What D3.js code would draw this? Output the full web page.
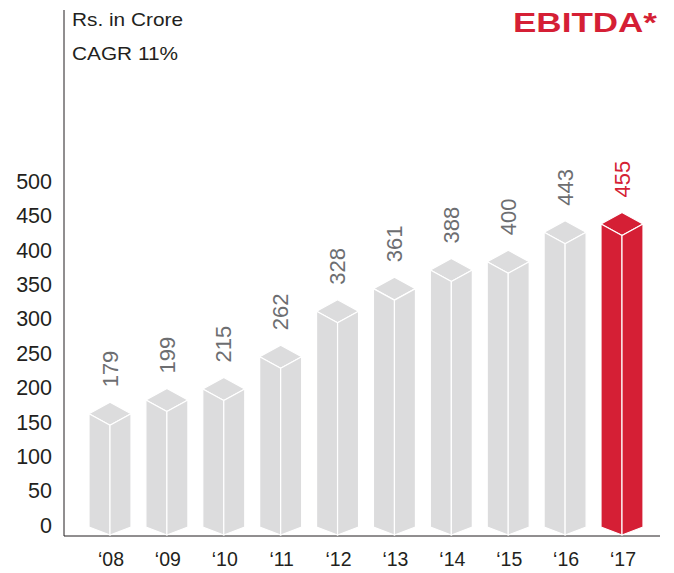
<!DOCTYPE html>
<html>
<head>
<meta charset="utf-8">
<script src="https://cdn.jsdelivr.net/npm/d3@7"></script>
<style>
  body { margin: 0; background: #fff; }
  svg { display: block; font-family: "Liberation Sans", Arial, sans-serif; }
</style>
</head>
<body>
<svg id="chart" width="674" height="573"></svg>
<script>
// EBITDA, Rs. in Crore
const years = ["‘08", "‘09", "‘10", "‘11", "‘12", "‘13", "‘14", "‘15", "‘16", "‘17"];
const values = [179, 199, 215, 262, 328, 361, 388, 400, 443, 455];
const yTicks = [0, 50, 100, 150, 200, 250, 300, 350, 400, 450, 500];

const GREY = "#dcdcdd";
const RED = "#d51f35";
const LABEL_GREY = "#6d6e71";

const svg = d3.select("#chart");
const axisX = 64;
const baseY = 536;

const x = d3.scalePoint().domain(years).range([110, 622]);
const y = d3.scaleLinear().domain([0, 500]).range([525.5, 181.5]);

// axis lines
svg.append("line")
  .attr("x1", axisX).attr("x2", axisX)
  .attr("y1", 10).attr("y2", baseY)
  .attr("stroke", "#231f20").attr("stroke-width", 1);
svg.append("line")
  .attr("x1", axisX).attr("x2", 660)
  .attr("y1", baseY).attr("y2", baseY)
  .attr("stroke", "#231f20").attr("stroke-width", 1);

// y tick labels
const yAxis = svg.append("g")
  .attr("transform", `translate(${axisX},0)`)
  .call(d3.axisLeft(y).tickValues(yTicks).tickSize(0).tickPadding(12));
yAxis.select(".domain").remove();
yAxis.selectAll("text")
  .attr("font-size", 21.5)
  .attr("font-family", "Liberation Sans, Arial, sans-serif")
  .attr("fill", "#231f20");

// isometric prisms
const hw = 21, dTop = 11.5;
const bars = svg.append("g");
years.forEach((yr, i) => {
  const cx = x(yr);
  const top = y(values[i]);
  const col = i === years.length - 1 ? RED : GREY;
  const sideBot = baseY - 9, frontBot = baseY - 1;
  const g = bars.append("g");
  const faces = [
    [[cx, top], [cx + hw, top + dTop], [cx, top + 2 * dTop], [cx - hw, top + dTop]],
    [[cx - hw, top + dTop], [cx, top + 2 * dTop], [cx, frontBot], [cx - hw, sideBot]],
    [[cx + hw, top + dTop], [cx, top + 2 * dTop], [cx, frontBot], [cx + hw, sideBot]]
  ];
  faces.forEach(f => {
    g.append("polygon")
      .attr("points", f.map(p => p.join(",")).join(" "))
      .attr("fill", col)
      .attr("stroke", "#fff")
      .attr("stroke-width", 1.2)
      .attr("stroke-linejoin", "round");
  });
  // value label
  svg.append("text")
    .attr("transform", `translate(${cx},${top - 15}) rotate(-90)`)
    .attr("dy", "0.35em")
    .attr("font-size", 22)
    .attr("fill", i === years.length - 1 ? RED : LABEL_GREY)
    .text(values[i]);
});

// x labels
svg.append("g").selectAll("text")
  .data(years)
  .enter()
  .append("text")
  .attr("x", d => x(d) + 1)
  .attr("y", 565.5)
  .attr("text-anchor", "middle")
  .attr("font-size", 19.5)
  .attr("fill", "#231f20")
  .text(d => d);

// header texts
svg.append("text")
  .attr("x", 72).attr("y", 26)
  .attr("font-size", 19)
  .attr("textLength", 111).attr("lengthAdjust", "spacingAndGlyphs")
  .attr("fill", "#231f20")
  .text("Rs. in Crore");
svg.append("text")
  .attr("x", 72).attr("y", 60)
  .attr("font-size", 19)
  .attr("textLength", 106).attr("lengthAdjust", "spacingAndGlyphs")
  .attr("fill", "#231f20")
  .text("CAGR 11%");
svg.append("text")
  .attr("x", 513).attr("y", 31.5)
  .attr("font-size", 27)
  .attr("font-weight", "bold")
  .attr("textLength", 144).attr("lengthAdjust", "spacingAndGlyphs")
  .attr("fill", RED)
  .text("EBITDA*");
</script>
</body>
</html>
